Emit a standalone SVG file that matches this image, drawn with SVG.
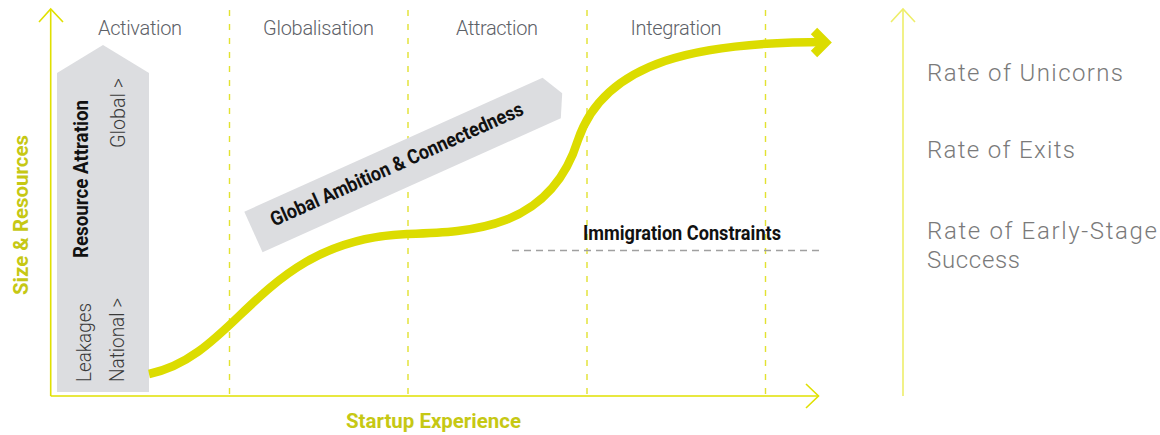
<svg xmlns="http://www.w3.org/2000/svg" width="1160" height="435" viewBox="0 0 1160 435">
<style>
.axis{stroke:#e0e000;stroke-width:1.6;fill:none}
.axis2{stroke:#eeee6a;stroke-width:1.6;fill:none}
.col{stroke:#e2e230;stroke-width:1.4;stroke-dasharray:6 8;fill:none}
.gray{fill:#dcdde0}
.hdr{font-family:Roboto,'Liberation Sans',sans-serif;font-weight:300;font-size:20px;fill:#5d6167}
.rate{font-family:Roboto,'Liberation Sans',sans-serif;font-weight:300;font-size:24px;fill:#7a7a7a}
.lite{font-family:Roboto,'Liberation Sans',sans-serif;font-weight:300;font-size:21px;fill:#3a3a3a}
.bold{font-family:Roboto,'Liberation Sans',sans-serif;font-weight:700;font-size:20px;fill:#111}
.ylab{font-family:Roboto,'Liberation Sans',sans-serif;font-weight:700;font-size:20px;fill:#c6c814}
</style>
<rect width="1160" height="435" fill="#fff"/>
<g id="columns">
<line class="col" x1="229.5" y1="10" x2="229.5" y2="396"/>
<line class="col" x1="408" y1="10" x2="408" y2="396"/>
<line class="col" x1="587" y1="10" x2="587" y2="396"/>
<line class="col" x1="765.5" y1="10" x2="765.5" y2="396"/>
</g>
<g id="headers">
<text class="hdr" x="140" y="35" text-anchor="middle" textLength="84">Activation</text>
<text class="hdr" x="318.5" y="35" text-anchor="middle" textLength="111">Globalisation</text>
<text class="hdr" x="497" y="35" text-anchor="middle" textLength="82">Attraction</text>
<text class="hdr" x="676" y="35" text-anchor="middle" textLength="91">Integration</text>
</g>
<g id="axes">
<polyline class="axis" points="50.7,396 50.7,9"/>
<polyline class="axis" points="39,22 50.7,9 63,22"/>
<polyline class="axis" points="50.7,396 818,396"/>
<polyline class="axis" points="806,384 818.5,396 806,408"/>
<text class="ylab" transform="translate(28,295) rotate(-90)" textLength="160" lengthAdjust="spacingAndGlyphs">Size &amp; Resources</text>
<text class="ylab" x="346" y="428" textLength="175" lengthAdjust="spacingAndGlyphs">Startup Experience</text>
</g>
<g id="resource-arrow">
<polygon class="gray" points="57,73 103,45 149,73 149,392 57,392"/>
<text class="bold" transform="translate(88,258) rotate(-90)" textLength="158" lengthAdjust="spacingAndGlyphs">Resource Attration</text>
<text class="lite" transform="translate(91,382) rotate(-90)" textLength="79" lengthAdjust="spacingAndGlyphs">Leakages</text>
<text class="lite" transform="translate(124,382) rotate(-90)" textLength="84" lengthAdjust="spacingAndGlyphs">National &gt;</text>
<text class="lite" transform="translate(125,148) rotate(-90)" textLength="70" lengthAdjust="spacingAndGlyphs">Global &gt;</text>
</g>
<g id="ambition-arrow" transform="translate(244.3,211.7) rotate(-24.2)">
<polygon class="gray" points="0,0 327,0 338.5,22.3 327,44.5 0,44.5"/>
<text class="bold" x="21" y="26" font-size="18" textLength="275" lengthAdjust="spacingAndGlyphs">Global Ambition &amp; Connectedness</text>
</g>
<g id="immigration">
<line x1="512" y1="250.5" x2="822" y2="250.5" stroke="#a0a0a0" stroke-width="1.3" stroke-dasharray="7 5"/>
<text class="bold" x="583" y="240" textLength="198" lengthAdjust="spacingAndGlyphs">Immigration Constraints</text>
</g>
<g id="connectors">
<path d="M149,374 C240,355 260,240 407,234 C470,232 550,230 578,140 C605,60 700,42 826,42" fill="none" stroke="#dcdc00" stroke-width="8.5"/>
<polyline points="814,31 825.5,42.5 814,54" fill="none" stroke="#dcdc00" stroke-width="9" stroke-linejoin="miter" stroke-miterlimit="4"/>
</g>
<g id="outcomes">
<polyline class="axis2" points="903,396 903,9"/>
<polyline class="axis2" points="891,22 903,9 915,22"/>
<text class="rate" x="927" y="80.7" textLength="196">Rate of Unicorns</text>
<text class="rate" x="927" y="158.3" textLength="148">Rate of Exits</text>
<text class="rate" x="927" y="239" textLength="230">Rate of Early-Stage</text>
<text class="rate" x="927" y="268" textLength="93">Success</text>
</g>
</svg>
